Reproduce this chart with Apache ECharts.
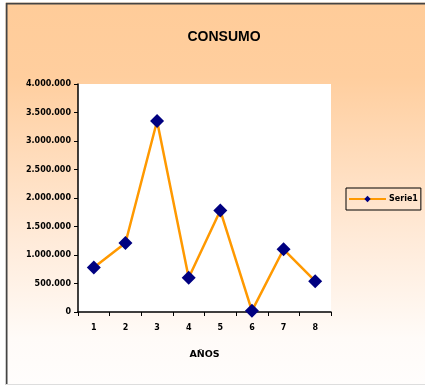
<!DOCTYPE html>
<html>
<head>
<meta charset="utf-8">
<script src="https://cdn.jsdelivr.net/npm/echarts@6/dist/echarts.min.js"></script>
<style>
  html, body { margin: 0; padding: 0; background: #fff; }
  #chart { width: 425px; height: 385px; }
</style>
</head>
<body>
<div id="chart"></div>
<script>
// Annual consumption per year index
const years = ['1', '2', '3', '4', '5', '6', '7', '8'];
const consumo = [780000, 1210000, 3350000, 600000, 1780000, 20000, 1100000, 540000];
const seriesName = 'Serie1';

const fmt = v => String(v).replace(/\B(?=(\d{3})+(?!\d))/g, '.');
const smallFont = { fontFamily: 'DejaVu Sans', fontWeight: 'bold', fontSize: 8, color: '#000' };

const chart = echarts.init(document.getElementById('chart'), null, { renderer: 'canvas' });
chart.setOption({
  animation: false,
  backgroundColor: {
    type: 'linear', x: 0, y: 0, x2: 0, y2: 1,
    colorStops: [
      { offset: 0, color: '#FFCC99' },
      { offset: 0.2, color: '#FFCE9E' },
      { offset: 0.6, color: '#FFE9D6' },
      { offset: 0.88, color: '#FFFBF8' },
      { offset: 1, color: '#FFFDFC' }
    ]
  },
  graphic: [
    { type: 'line', shape: { x1: 6, y1: 3.5, x2: 425, y2: 3.5 }, style: { stroke: '#444', lineWidth: 2 } },
    { type: 'line', shape: { x1: 6.5, y1: 3, x2: 6.5, y2: 385 }, style: { stroke: '#444', lineWidth: 2 } },
    { type: 'line', shape: { x1: 6, y1: 384.5, x2: 425, y2: 384.5 }, style: { stroke: '#ddd', lineWidth: 1 } },
    { type: 'rect', shape: { x: 0, y: 0, width: 5.5, height: 385 }, style: { fill: '#fff' } },
    { type: 'rect', shape: { x: 0, y: 0, width: 425, height: 2.5 }, style: { fill: '#fff' } }
  ],
  title: {
    text: 'CONSUMO',
    left: 219, top: 25, textAlign: 'center',
    textStyle: { fontFamily: 'Liberation Sans', fontWeight: 'bold', fontSize: 14, color: '#000' }
  },
  legend: {
    left: 346, top: 188,
    padding: [7, 3, 7, 2],
    borderColor: '#000', borderWidth: 1,
    backgroundColor: 'transparent',
    itemWidth: 37, itemHeight: 8, itemGap: 4,
    textStyle: Object.assign({}, smallFont, { padding: [0, 0, 0, -2] }),
    data: [seriesName]
  },
  grid: {
    left: 78, top: 84, right: 94, bottom: 73,
    show: true, backgroundColor: '#fff', borderWidth: 0
  },
  xAxis: {
    type: 'category',
    data: years,
    boundaryGap: true,
    name: 'AÑOS',
    nameLocation: 'middle',
    nameGap: 38,
    nameTextStyle: { fontFamily: 'DejaVu Sans', fontWeight: 'bold', fontSize: 9.5, color: '#000' },
    axisLine: { lineStyle: { color: '#000', width: 1.5 } },
    axisTick: { show: true, length: 4, lineStyle: { color: '#000' } },
    axisLabel: Object.assign({ margin: 12 }, smallFont),
    splitLine: { show: false }
  },
  yAxis: {
    type: 'value',
    min: 0, max: 4000000, interval: 500000,
    axisLine: { show: true, lineStyle: { color: '#000', width: 1.5 } },
    axisTick: { show: true, length: 4, lineStyle: { color: '#000' } },
    axisLabel: Object.assign({ margin: 7, formatter: fmt }, smallFont),
    splitLine: { show: false }
  },
  series: [{
    name: seriesName,
    type: 'line',
    data: consumo,
    symbol: 'diamond',
    symbolSize: 14,
    lineStyle: { color: '#FF9900', width: 2.5 },
    itemStyle: { color: '#000080', borderWidth: 0 }
  }]
});
</script>
</body>
</html>
